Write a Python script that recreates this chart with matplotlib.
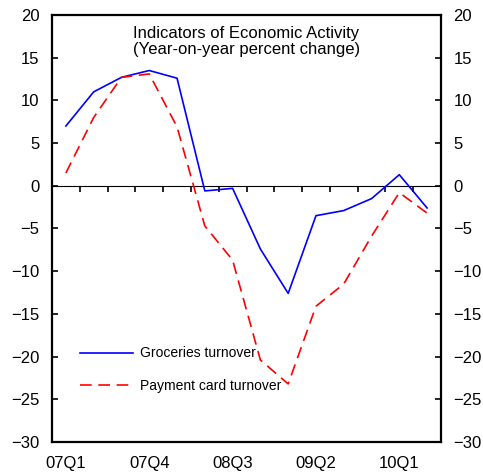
import matplotlib.pyplot as plt
import numpy as np

plt.rcParams['font.family'] = ['Liberation Sans', 'DejaVu Sans']

quarters = ['07Q1', '07Q2', '07Q3', '07Q4', '08Q1', '08Q2', '08Q3', '08Q4',
            '09Q1', '09Q2', '09Q3', '09Q4', '10Q1', '10Q2']
groceries = [7.0, 11.0, 12.7, 13.5, 12.6, -0.6, -0.3, -7.4, -12.6, -3.5, -2.9, -1.5, 1.3, -2.6]
payment_card = [1.5, 8.0, 12.7, 13.1, 6.9, -4.7, -8.7, -20.4, -23.2, -14.1, -11.5, -5.9, -0.8, -3.2]
y_ticks = [20, 15, 10, 5, 0, -5, -10, -15, -20, -25, -30]

x = np.arange(len(quarters))

fig = plt.figure(figsize=(4.83, 4.72), dpi=100)
ax = fig.add_axes([52/483, 1 - 442/472, (441 - 52)/483, (442 - 15)/472])

ax.plot(x, groceries, color='#0000ff', lw=1.2, label='Groceries turnover')
ax.plot(x, payment_card, color='#ff0000', lw=1.2, dashes=(7, 4), label='Payment card turnover')

ax.set_xlim(-0.5, len(quarters) - 0.5)
ax.set_ylim(-30, 20)
ax.set_yticks(y_ticks)
ax.set_xticks(x[::3])
ax.set_xticklabels(quarters[::3])
ax.tick_params(axis='y', direction='in', left=True, right=True, labelleft=True, labelright=True,
               length=4, width=1.2, labelsize=12, pad=9)
ax.tick_params(axis='x', length=0, labelsize=12, pad=10)
for sp in ax.spines.values():
    sp.set_linewidth(1.6)

# zero line with ticks between quarters
sec = ax.secondary_xaxis(0.6)
sec.spines['bottom'].set_linewidth(1.6)
sec.set_xticks(x[:-1] + 0.5)
sec.tick_params(direction='in', length=4, width=1.2, labelbottom=False, labeltop=False)

ax.text(0.5, 0.975, 'Indicators of Economic Activity\n(Year-on-year percent change)',
        transform=ax.transAxes, ha='center', va='top', fontsize=12, linespacing=1.15)

ax.legend(loc='lower left', bbox_to_anchor=(0.04, 0.085), frameon=False, fontsize=10,
          handlelength=3.8, labelspacing=1.35, handletextpad=0.5)

fig.savefig('out.png', dpi=100)
